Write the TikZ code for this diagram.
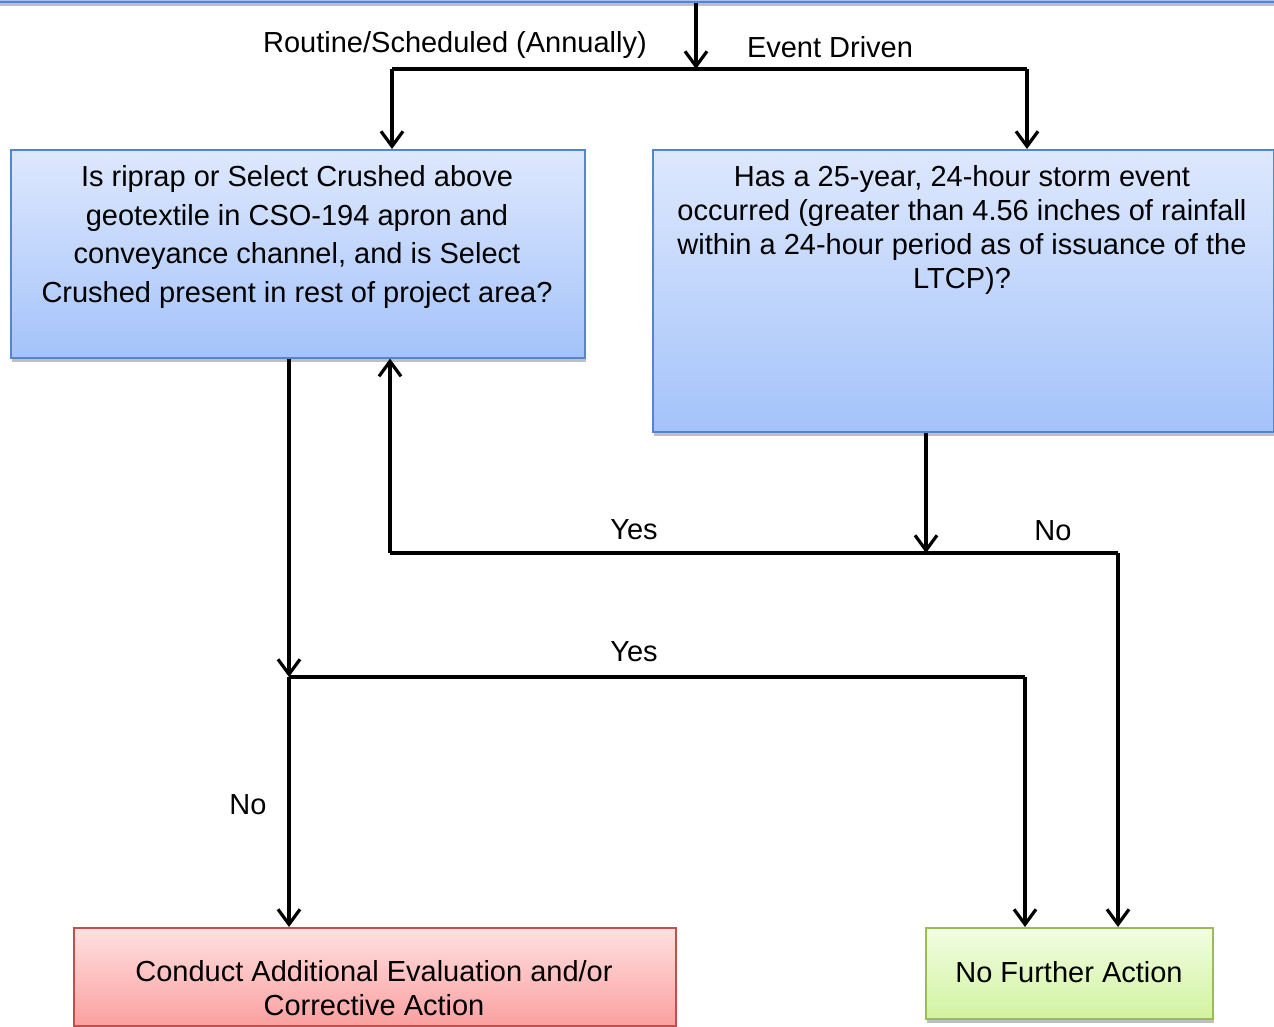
\documentclass[tikz,border=0pt]{standalone}
\usepackage{fontspec}
\setmainfont{Liberation Sans}
\usetikzlibrary{arrows.meta,shadows,calc}
\definecolor{bluetop}{HTML}{DEE8FD}
\definecolor{bluebot}{HTML}{A4C3FA}
\definecolor{blueedge}{HTML}{5585CC}
\definecolor{redtop}{HTML}{FFE0E0}
\definecolor{redbot}{HTML}{FBA0A0}
\definecolor{rededge}{HTML}{C0504D}
\definecolor{greentop}{HTML}{F1FDE2}
\definecolor{greenbot}{HTML}{D2F3A0}
\definecolor{greenedge}{HTML}{9BBB59}
\tikzset{
  boxbase/.style={rectangle, inner sep=0pt, line width=1.6pt, anchor=north west,
    drop shadow={shadow xshift=1.5pt, shadow yshift=-4pt, opacity=0.25, fill=black}},
  bluebox/.style={boxbase, draw=blueedge, top color=bluetop, bottom color=bluebot},
  redbox/.style={boxbase, draw=rededge, top color=redtop, bottom color=redbot},
  greenbox/.style={boxbase, draw=greenedge, top color=greentop, bottom color=greenbot},
  boxtext/.style={inner sep=0pt, align=center, font=\fontsize{29}{34}\selectfont},
  lbl/.style={inner sep=0pt, font=\fontsize{29}{34}\selectfont},
  conn/.style={line width=3.4pt, draw=black},
  arr/.style={conn, -{Straight Barb[length=15pt,width=22pt,line width=3.2pt]}},
}
\begin{document}
\begin{tikzpicture}[x=1pt,y=-1pt]
\useasboundingbox (0,0) rectangle (1274,1026);
% top (cut-off) box
\node[bluebox, minimum width=1290pt, minimum height=40pt, anchor=south west, top color=bluebot] (src) at (-8,3) {};
% decision boxes
\node[bluebox, minimum width=574pt, minimum height=208pt] (q1) at (10,149) {};
\node[boxtext] (q1t) at (297,237) {Is riprap or Select Crushed above\\[4.5pt]geotextile in CSO-194 apron and\\[4.5pt]conveyance channel, and is Select\\[4.5pt]Crushed present in rest of project area?};
\node[bluebox, minimum width=621pt, minimum height=282pt] (q2) at (652,149) {};
\node[boxtext] (q2t) at (962,230) {Has a 25-year, 24-hour storm event\\occurred (greater than 4.56 inches of rainfall\\within a 24-hour period as of issuance of the\\LTCP)?};
% outcome boxes
\node[redbox, minimum width=602pt, minimum height=98pt] (cae) at (73,927) {};
\node[boxtext] (caet) at (374,988) {Conduct Additional Evaluation and/or\\Corrective Action};
\node[greenbox, minimum width=287pt, minimum height=91pt] (nfa) at (925,927) {};
\node[lbl] (nfat) at (1069,972) {No Further Action};
% junctions
\coordinate (j0) at (696,69);
\coordinate (jl) at (392,69);
\coordinate (jr) at (1027,69);
\coordinate (j1) at (926,553);
\coordinate (y1l) at (390,553);
\coordinate (n1r) at (1118,553);
\coordinate (j2) at (289,677);
\coordinate (y2r) at (1025,677);
% connectors
\draw[arr] (src.south -| j0) -- (j0);
\draw[conn] (jl) -- (jr);
\draw[arr] (jl) -- (jl |- q1.north);
\draw[arr] (jr) -- (jr |- q2.north);
\draw[arr] (q2.south -| j1) -- (j1);
\draw[conn] (y1l) -- (n1r);
\draw[arr] (y1l) -- (y1l |- q1.south);
\draw[arr] (n1r) -- (n1r |- nfa.north);
\draw[arr] (q1.south -| j2) -- (j2);
\draw[conn] (j2) -- (y2r);
\draw[arr] (y2r) -- (y2r |- nfa.north);
\draw[arr] (j2) -- (j2 |- cae.north);
% labels
\node[lbl] (l1) at (455,45) {Routine/Scheduled (Annually)};
\node[lbl] (l2) at (830,47) {Event Driven};
\node[lbl] (l3) at (634,530) {Yes};
\node[lbl] (l4) at (1053,531) {No};
\node[lbl] (l5) at (634,652) {Yes};
\node[lbl] (l6) at (248,805) {No};
\end{tikzpicture}
\end{document}
